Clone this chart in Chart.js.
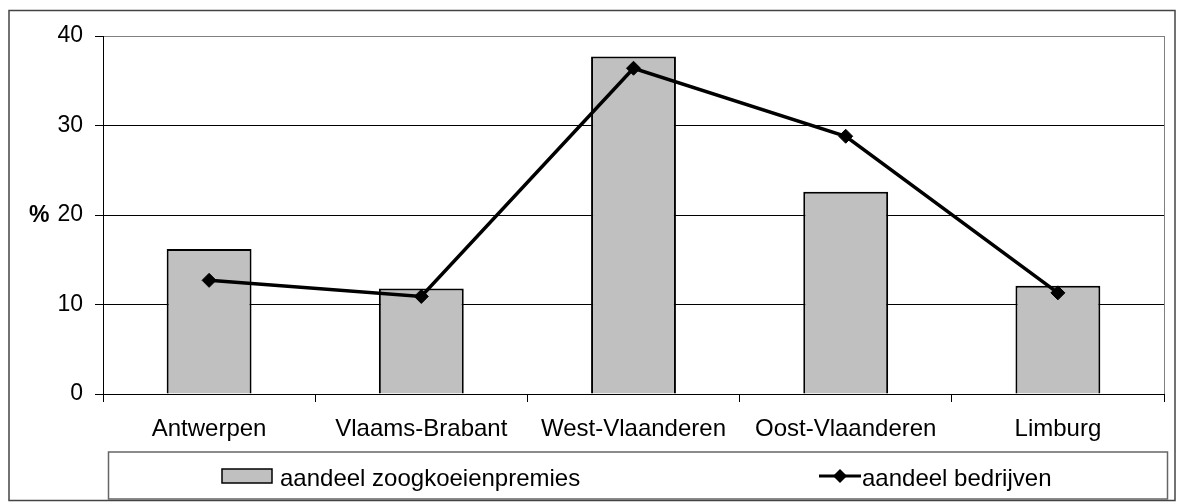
<!DOCTYPE html>
<html>
<head>
<meta charset="utf-8">
<script src="https://cdn.jsdelivr.net/npm/chart.js@4/dist/chart.umd.min.js"></script>
<style>
  html, body { margin: 0; padding: 0; background: #fff; }
  #wrap { width: 1184px; height: 502px; }
</style>
</head>
<body>
<div id="wrap"><canvas id="premChart" width="1184" height="502"></canvas></div>
<script>
const regios = ['Antwerpen', 'Vlaams-Brabant', 'West-Vlaanderen', 'Oost-Vlaanderen', 'Limburg'];
const premies = [16.2, 11.8, 37.7, 22.6, 12.1];
const bedrijven = [12.7, 10.9, 36.4, 28.8, 11.3];
const yTicks = [0, 10, 20, 30, 40];

const FONT = "'Liberation Sans', Arial, sans-serif";

// frame, plot border, % label and legend box
const extras = {
    id: 'extras',
    afterDraw(chart) {
        const c = chart.ctx;
        const a = chart.chartArea;
        c.save();
        c.strokeStyle = '#444';
        c.lineWidth = 1.5;
        c.strokeRect(9, 10.5, 1166, 490);

        c.strokeStyle = '#808080';
        c.lineWidth = 1;
        c.beginPath();
        c.moveTo(Math.round(a.right) + 0.5, a.top);
        c.lineTo(Math.round(a.right) + 0.5, a.bottom);
        c.stroke();

        c.fillStyle = '#000';
        c.font = 'bold 23px ' + FONT;
        c.textAlign = 'left';
        c.textBaseline = 'middle';
        c.fillText('%', 29, chart.scales.y.getPixelForValue(20) + 1);

        // legend
        c.strokeStyle = '#666';
        c.lineWidth = 1.5;
        c.strokeRect(108.5, 452, 1059, 47);
        const bar = chart.data.datasets.find(d => d.type === 'bar');
        const line = chart.data.datasets.find(d => d.type === 'line');
        c.font = '24px ' + FONT;
        c.textBaseline = 'alphabetic';

        c.fillStyle = bar.backgroundColor;
        c.fillRect(222, 469, 50, 14);
        c.strokeStyle = bar.borderColor;
        c.lineWidth = 1.5;
        c.strokeRect(222, 469, 50, 14);
        c.fillStyle = '#000';
        c.fillText(bar.label, 280, 486);

        c.strokeStyle = line.borderColor;
        c.lineWidth = 3;
        c.beginPath();
        c.moveTo(819, 476);
        c.lineTo(861, 476);
        c.stroke();
        c.beginPath();
        c.moveTo(840, 469); c.lineTo(847, 476); c.lineTo(840, 483); c.lineTo(833, 476);
        c.closePath();
        c.fill();
        c.fillText(line.label, 862, 486);
        c.restore();
    }
};

new Chart(document.getElementById('premChart'), {
    data: {
        labels: regios,
        datasets: [
            {
                type: 'line',
                label: 'aandeel bedrijven',
                data: bedrijven,
                borderColor: '#000',
                borderWidth: 3.5,
                pointStyle: 'rectRot',
                pointRadius: 7,
                pointBackgroundColor: '#000',
                pointBorderColor: '#000',
                pointBorderWidth: 1,
                tension: 0,
                order: 0
            },
            {
                type: 'bar',
                label: 'aandeel zoogkoeienpremies',
                data: premies,
                backgroundColor: '#c0c0c0',
                borderColor: '#000',
                borderWidth: 2,
                barPercentage: 0.4,
                categoryPercentage: 1,
                order: 1
            }
        ]
    },
    options: {
        responsive: false,
        animation: false,
        devicePixelRatio: 1,
        layout: { padding: { top: 36, right: 20, bottom: 0, left: 0 } },
        plugins: { legend: { display: false }, tooltip: { enabled: false } },
        scales: {
            x: {
                offset: true,
                grid: { offset: true, drawOnChartArea: false, color: '#000', tickLength: 8 },
                border: { color: '#000', width: 1 },
                ticks: { color: '#000', font: { family: FONT, size: 24 }, padding: 13, maxRotation: 0 },
                afterFit: s => { s.height = 108; }
            },
            y: {
                min: 0,
                max: 40,
                afterBuildTicks: s => { s.ticks = yTicks.map(v => ({ value: v })); },
                grid: {
                    color: ctx => (ctx.tick && ctx.tick.value === 40) ? '#808080' : '#000',
                    tickColor: '#000',
                    tickLength: 8
                },
                border: { color: '#000', width: 1 },
                ticks: { color: '#000', font: { family: FONT, size: 23 }, padding: 12 },
                afterFit: s => { s.width = 103; }
            }
        }
    },
    plugins: [extras]
});
</script>
</body>
</html>
